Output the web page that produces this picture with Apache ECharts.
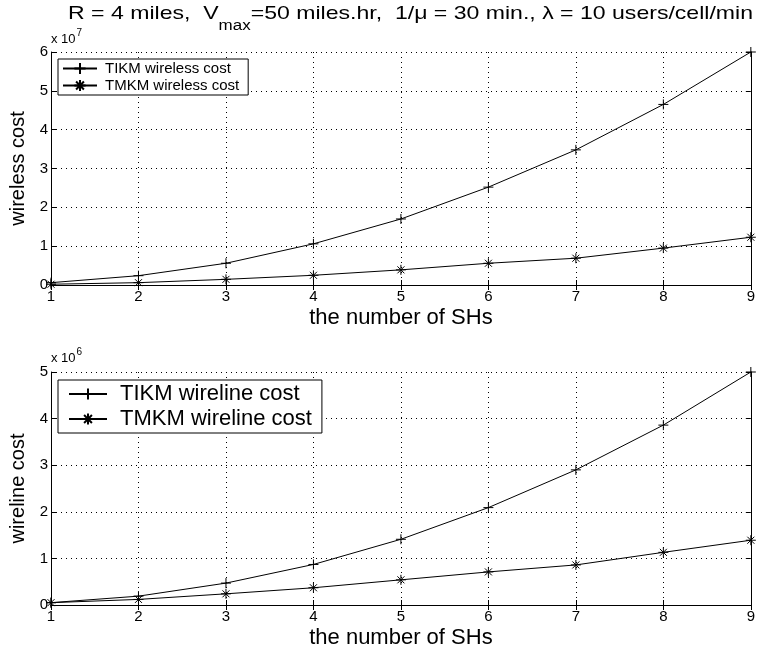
<!DOCTYPE html>
<html>
<head>
<meta charset="utf-8">
<script src="https://cdn.jsdelivr.net/npm/echarts@6/dist/echarts.min.js"></script>
<style>
  html, body { margin: 0; padding: 0; background: #fff; }
  #chart { width: 758px; height: 653px; }
</style>
</head>
<body>
<div id="chart"></div>
<script>
// number of SHs
var shs = [1, 2, 3, 4, 5, 6, 7, 8, 9];
// wireless cost (x 10^7)
var tikmWireless = [0.06e7, 0.24e7, 0.56e7, 1.06e7, 1.70e7, 2.52e7, 3.48e7, 4.65e7, 6.0e7];
var tmkmWireless = [0.02e7, 0.06e7, 0.146e7, 0.25e7, 0.39e7, 0.56e7, 0.69e7, 0.95e7, 1.23e7];
// wireline cost (x 10^6)
var tikmWireline = [0.05e6, 0.19e6, 0.47e6, 0.87e6, 1.41e6, 2.09e6, 2.90e6, 3.86e6, 5.0e6];
var tmkmWireline = [0.05e6, 0.12e6, 0.24e6, 0.37e6, 0.54e6, 0.71e6, 0.86e6, 1.13e6, 1.39e6];

var FONT = '"Liberation Sans", Arial, sans-serif';
var plusSym = 'path://M0,5L10,5M5,0L5,10';
var starSym = 'path://M0,5L10,5M5,0L5,10M1.5,1.5L8.5,8.5M1.5,8.5L8.5,1.5';

var chart = echarts.init(document.getElementById('chart'));

// measure text for sub/superscript pieces
var ctx = document.createElement('canvas').getContext('2d');
function tw(txt, size) {
  ctx.font = size + 'px ' + FONT;
  return ctx.measureText(txt).width;
}

function pairs(ys) {
  return shs.map(function (x, i) { return [x, ys[i]]; });
}

function bottomX(gi) {
  return {
    type: 'value', gridIndex: gi, min: 1, max: 9, interval: 1,
    name: 'the number of SHs', nameLocation: 'middle', nameGap: 22,
    nameTextStyle: { fontSize: 22, color: '#000', fontFamily: FONT },
    axisLine: { lineStyle: { color: '#000', width: 1 } },
    axisTick: { inside: true, length: 5, lineStyle: { color: '#000' } },
    axisLabel: { fontSize: 15, color: '#000', fontFamily: FONT, margin: 4 },
    splitLine: { show: true, lineStyle: { color: '#000', type: [1, 4], width: 1 } }
  };
}
function topX(gi) {
  return {
    type: 'value', gridIndex: gi, position: 'top', min: 1, max: 9, interval: 1,
    axisLine: { lineStyle: { color: '#000', width: 1 } },
    axisTick: { inside: true, length: 5, lineStyle: { color: '#000' } },
    axisLabel: { show: false }, splitLine: { show: false }
  };
}
function leftY(gi, name, max, step) {
  return {
    type: 'value', gridIndex: gi, min: 0, max: max, interval: step,
    name: name, nameLocation: 'middle', nameGap: 23, nameRotate: 90,
    nameTextStyle: { fontSize: 20, color: '#000', fontFamily: FONT },
    axisLine: { show: true, lineStyle: { color: '#000', width: 1 } },
    axisTick: { show: true, inside: true, length: 5, lineStyle: { color: '#000' } },
    axisLabel: { fontSize: 15, color: '#000', fontFamily: FONT, margin: 3,
      formatter: function (v) { return String(Math.round(v / step)); } },
    splitLine: { show: true, lineStyle: { color: '#000', type: [1, 4], width: 1 } }
  };
}
function rightY(gi, max, step) {
  return {
    type: 'value', gridIndex: gi, position: 'right', min: 0, max: max, interval: step,
    axisLine: { show: true, lineStyle: { color: '#000', width: 1 } },
    axisTick: { show: true, inside: true, length: 5, lineStyle: { color: '#000' } },
    axisLabel: { show: false }, splitLine: { show: false }
  };
}
function line(name, data, sym, xi, yi) {
  return {
    type: 'line', name: name, xAxisIndex: xi, yAxisIndex: yi, data: pairs(data),
    symbol: sym, symbolSize: 10, showSymbol: true, clip: false, animation: false,
    lineStyle: { color: '#000', width: 1 },
    itemStyle: { color: 'transparent', borderColor: '#000', borderWidth: 1 }
  };
}

// title with subscript and exponent labels, built from pieces
var graphics = [];
var tSize = 19, subSize = 14, tx = 68, tTop = 4, tRight = 753;
var t1 = 'R = 4 miles,  V', t2 = 'max',
    t3 = '=50 miles.hr,  1/\u03bc = 30 min., \u03bb = 10 users/cell/min';
var w1 = tw(t1, tSize), w2 = tw(t2, subSize), w3 = tw(t3, tSize);
var sx = (tRight - tx) / (w1 + w2 + w3);
graphics.push({ type: 'text', left: tx, top: tTop, scaleX: sx,
  style: { text: t1, font: tSize + 'px ' + FONT, fill: '#000' } });
graphics.push({ type: 'text', left: tx + w1 * sx, top: tTop + 15, scaleX: sx,
  style: { text: t2, font: subSize + 'px ' + FONT, fill: '#000' } });
graphics.push({ type: 'text', left: tx + (w1 + w2) * sx, top: tTop, scaleX: sx,
  style: { text: t3, font: tSize + 'px ' + FONT, fill: '#000' } });

function expLabel(y, p) {
  var w = tw('x 10', 13);
  graphics.push({ type: 'text', left: 51, top: y,
    style: { text: 'x 10', font: '13px ' + FONT, fill: '#000' } });
  graphics.push({ type: 'text', left: 51 + w + 1, top: y - 5,
    style: { text: p, font: '10px ' + FONT, fill: '#000' } });
}
expLabel(33, '7');
expLabel(352, '6');

var option = {
  backgroundColor: '#fff',
  animation: false,
  grid: [
    { left: 51, top: 52, width: 702, height: 233 },
    { left: 51, top: 372, width: 702, height: 233 }
  ],
  legend: [
    {
      data: ['TIKM wireless cost', 'TMKM wireless cost'],
      left: 58, top: 59, orient: 'vertical',
      backgroundColor: '#fff', borderColor: '#000', borderWidth: 1, borderRadius: 0,
      padding: [2, 9, 2, 4], itemGap: 2, itemWidth: 34, itemHeight: 14,
      textStyle: { fontSize: 15, color: '#000', fontFamily: FONT, padding: [0, 0, 0, 3] }
    },
    {
      data: ['TIKM wireline cost', 'TMKM wireline cost'],
      left: 58, top: 380, orient: 'vertical',
      backgroundColor: '#fff', borderColor: '#000', borderWidth: 1, borderRadius: 0,
      padding: [3, 10, 3, 10], itemGap: 3, itemWidth: 38, itemHeight: 14,
      textStyle: { fontSize: 22, color: '#000', fontFamily: FONT, padding: [0, 0, 0, 8] }
    }
  ],
  xAxis: [bottomX(0), topX(0), bottomX(1), topX(1)],
  yAxis: [leftY(0, 'wireless cost', 6e7, 1e7), rightY(0, 6e7, 1e7),
          leftY(1, 'wireline cost', 5e6, 1e6), rightY(1, 5e6, 1e6)],
  series: [
    line('TIKM wireless cost', tikmWireless, plusSym, 0, 0),
    line('TMKM wireless cost', tmkmWireless, starSym, 0, 0),
    line('TIKM wireline cost', tikmWireline, plusSym, 2, 2),
    line('TMKM wireline cost', tmkmWireline, starSym, 2, 2)
  ],
  graphic: graphics
};
chart.setOption(option);
</script>
</body>
</html>
